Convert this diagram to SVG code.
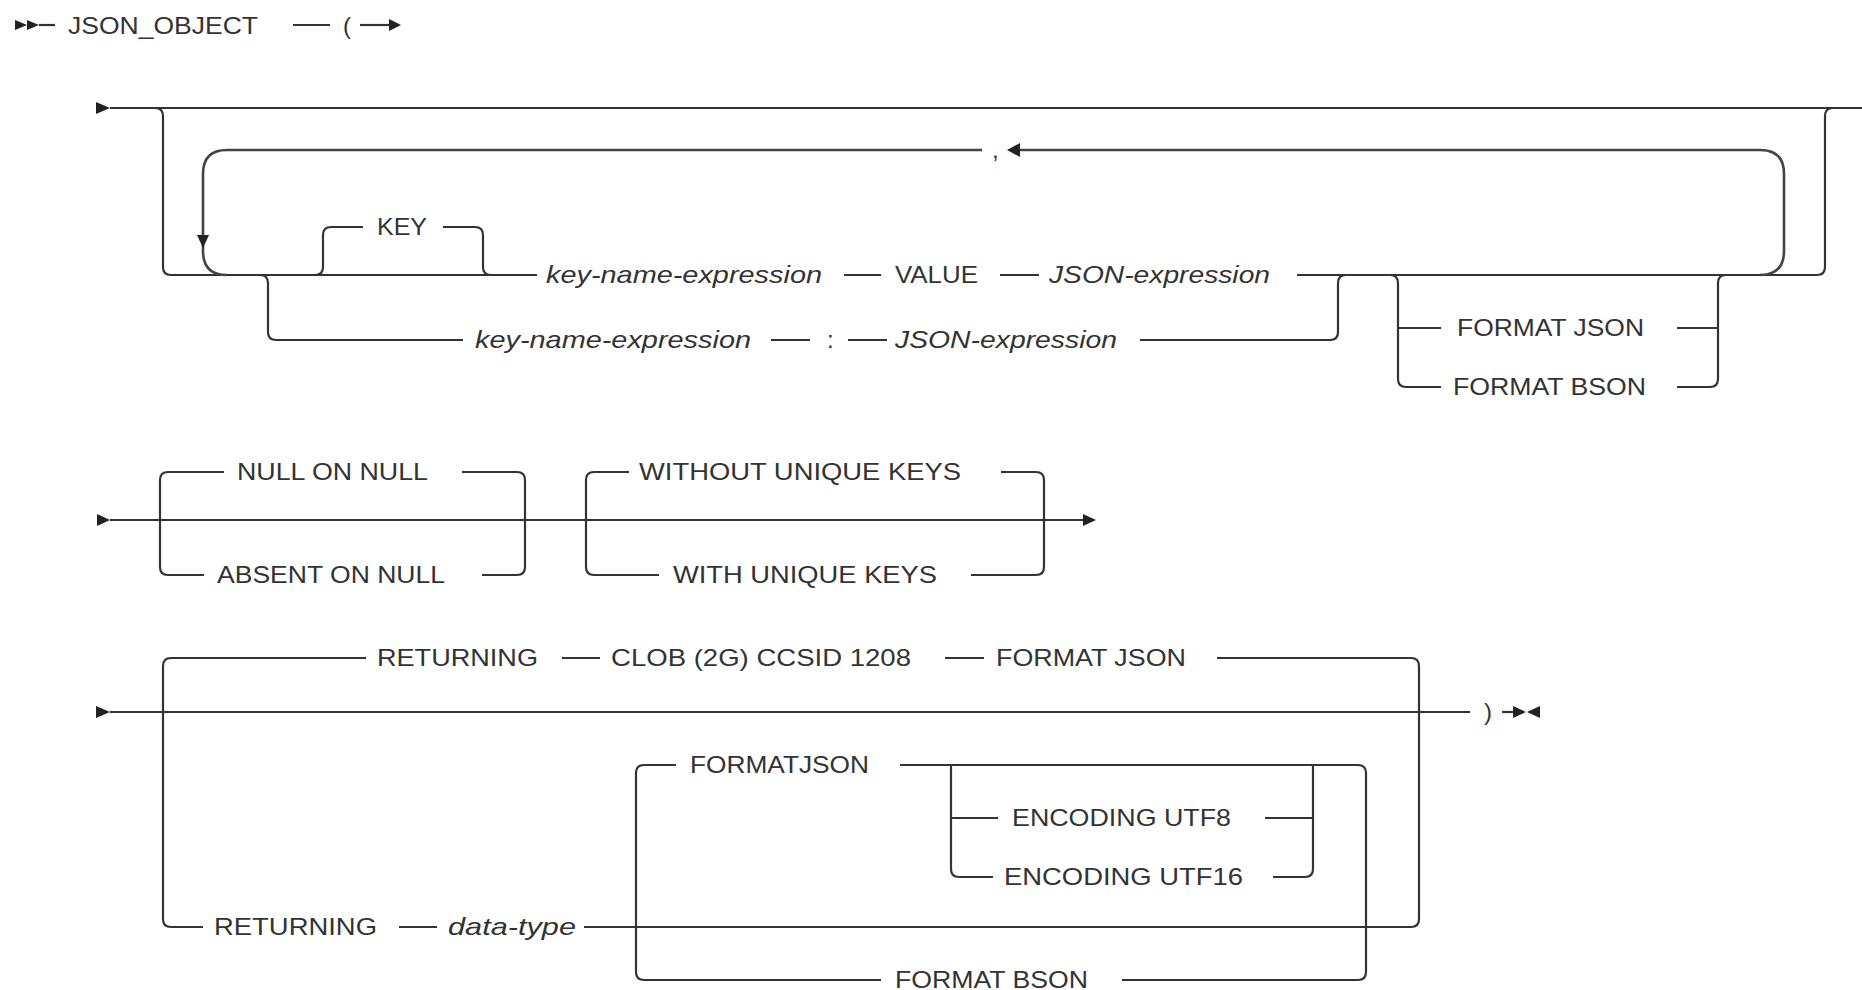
<svg xmlns="http://www.w3.org/2000/svg" width="1862" height="990" viewBox="0 0 1862 990">
<style>
.bg{fill:#ffffff}
.ln{fill:none;stroke:#333;stroke-width:2.2;stroke-linejoin:round}
.lp{fill:none;stroke:#444;stroke-width:2.6;stroke-linejoin:round}
.ah{fill:#222;stroke:none}
.kw{font-family:"Liberation Sans",Arial,sans-serif;font-size:24px;fill:#333}
.it{font-family:"Liberation Sans",Arial,sans-serif;font-size:24px;font-style:italic;fill:#333}
</style>
<rect class="bg" x="0" y="0" width="1862" height="990"/>

<g id="connectors">
  <!-- row 1 -->
  <polygon class="ah" points="15,20 27,25 15,30"/>
  <polygon class="ah" points="27,20 39,25 27,30"/>
  <path class="ln" d="M39 25 H55"/>
  <path class="ln" d="M293 25 H330"/>
  <path class="ln" d="M360 25 H390"/>
  <polygon class="ah" points="389,19 401,25 389,31"/>

  <!-- row 2 -->
  <polygon class="ah" points="96,102 110,108 96,114"/>
  <path class="ln" d="M110 108 H1862"/>
  <path class="ln" d="M155 108 Q163 108 163 116 V267 Q163 275 171 275 H537"/>
  <path class="ln" d="M844 275 H881"/>
  <path class="ln" d="M1000 275 H1039"/>
  <path class="ln" d="M1297 275 H1817 Q1825 275 1825 267 V116 Q1825 108 1833 108"/>
  <!-- KEY -->
  <path class="ln" d="M315 275 Q323 275 323 267 V235 Q323 227 331 227 H363"/>
  <path class="ln" d="M443 227 H475 Q483 227 483 235 V267 Q483 275 491 275"/>
  <!-- lower alternative -->
  <path class="ln" d="M260 275 Q268 275 268 283 V332 Q268 340 276 340 H463"/>
  <path class="ln" d="M771 340 H810"/>
  <path class="ln" d="M848 340 H887"/>
  <path class="ln" d="M1140 340 H1330 Q1338 340 1338 332 V283 Q1338 275 1346 275"/>
  <!-- FORMAT JSON / BSON -->
  <path class="ln" d="M1390 275 Q1398 275 1398 283 V379 Q1398 387 1406 387 H1441"/>
  <path class="ln" d="M1398 328 H1441"/>
  <path class="ln" d="M1677 328 H1718"/>
  <path class="ln" d="M1677 387 H1710 Q1718 387 1718 379 V283 Q1718 275 1726 275"/>
  <!-- repeat loop -->
  <path class="lp" d="M1760 275 Q1784 275 1784 251 V174 Q1784 150 1760 150 H1019"/>
  <polygon class="ah" points="1020,143 1007,150 1020,157"/>
  <path class="lp" d="M982 150 H227 Q203 150 203 174 V251 Q203 275 227 275"/>
  <polygon class="ah" points="197,235 209,235 203,248"/>

  <!-- row 3 -->
  <polygon class="ah" points="97,514 110,520 97,526"/>
  <path class="ln" d="M110 520 H1084"/>
  <polygon class="ah" points="1083,514 1096,520 1083,526"/>
  <path class="ln" d="M224 472 H168 Q160 472 160 480 V567 Q160 575 168 575 H204"/>
  <path class="ln" d="M462 472 H517 Q525 472 525 480 V567 Q525 575 517 575 H482"/>
  <path class="ln" d="M629 472 H594 Q586 472 586 480 V567 Q586 575 594 575 H659"/>
  <path class="ln" d="M1001 472 H1036 Q1044 472 1044 480 V567 Q1044 575 1036 575 H971"/>

  <!-- row 4 -->
  <polygon class="ah" points="96,706 110,712 96,718"/>
  <path class="ln" d="M110 712 H1470"/>
  <path class="ln" d="M366 658 H171 Q163 658 163 666 V919 Q163 927 171 927 H203"/>
  <path class="ln" d="M562 658 H600"/>
  <path class="ln" d="M945 658 H984"/>
  <path class="ln" d="M1217 658 H1411 Q1419 658 1419 666 V919 Q1419 927 1411 927 H584"/>
  <path class="ln" d="M399 927 H437"/>
  <path class="ln" d="M676 765 H644 Q636 765 636 773 V972 Q636 980 644 980 H881"/>
  <path class="ln" d="M900 765 H1358 Q1366 765 1366 773 V972 Q1366 980 1358 980 H1122"/>
  <path class="ln" d="M951 765 V869 Q951 877 959 877 H993"/>
  <path class="ln" d="M951 818 H998"/>
  <path class="ln" d="M1265 818 H1313"/>
  <path class="ln" d="M1273 877 H1305 Q1313 877 1313 869 V765"/>
  <path class="ln" d="M1502 712 H1514"/>
  <polygon class="ah" points="1513,706 1526,712 1513,718"/>
  <polygon class="ah" points="1540,706 1527,712 1540,718"/>
</g>

<g id="n-json-object"><text class="kw" x="68" y="34" textLength="190" lengthAdjust="spacingAndGlyphs">JSON_OBJECT</text></g>
<g id="n-lparen"><text class="kw" x="343" y="34">(</text></g>
<g id="n-key"><text class="kw" x="377" y="235" textLength="50" lengthAdjust="spacingAndGlyphs">KEY</text></g>
<g id="n-kne1"><text class="it" x="546" y="283" textLength="276" lengthAdjust="spacingAndGlyphs">key-name-expression</text></g>
<g id="n-value"><text class="kw" x="895" y="283" textLength="83" lengthAdjust="spacingAndGlyphs">VALUE</text></g>
<g id="n-je1"><text class="it" x="1049" y="283" textLength="221" lengthAdjust="spacingAndGlyphs">JSON-expression</text></g>
<g id="n-kne2"><text class="it" x="475" y="348" textLength="276" lengthAdjust="spacingAndGlyphs">key-name-expression</text></g>
<g id="n-colon"><text class="kw" x="827" y="348">:</text></g>
<g id="n-je2"><text class="it" x="895" y="348" textLength="222" lengthAdjust="spacingAndGlyphs">JSON-expression</text></g>
<g id="n-fj1"><text class="kw" x="1457" y="336" textLength="187" lengthAdjust="spacingAndGlyphs">FORMAT JSON</text></g>
<g id="n-fb1"><text class="kw" x="1453" y="395" textLength="193" lengthAdjust="spacingAndGlyphs">FORMAT BSON</text></g>
<g id="n-comma"><text class="kw" x="992" y="158">,</text></g>
<g id="n-nullonnull"><text class="kw" x="237" y="480" textLength="191" lengthAdjust="spacingAndGlyphs">NULL ON NULL</text></g>
<g id="n-absent"><text class="kw" x="217" y="583" textLength="228" lengthAdjust="spacingAndGlyphs">ABSENT ON NULL</text></g>
<g id="n-without"><text class="kw" x="639" y="480" textLength="322" lengthAdjust="spacingAndGlyphs">WITHOUT UNIQUE KEYS</text></g>
<g id="n-with"><text class="kw" x="673" y="583" textLength="264" lengthAdjust="spacingAndGlyphs">WITH UNIQUE KEYS</text></g>
<g id="n-ret1"><text class="kw" x="377" y="666" textLength="161" lengthAdjust="spacingAndGlyphs">RETURNING</text></g>
<g id="n-clob"><text class="kw" x="611" y="666" textLength="300" lengthAdjust="spacingAndGlyphs">CLOB (2G) CCSID 1208</text></g>
<g id="n-fj2"><text class="kw" x="996" y="666" textLength="190" lengthAdjust="spacingAndGlyphs">FORMAT JSON</text></g>
<g id="n-ret2"><text class="kw" x="214" y="935" textLength="163" lengthAdjust="spacingAndGlyphs">RETURNING</text></g>
<g id="n-datatype"><text class="it" x="448" y="935" textLength="128" lengthAdjust="spacingAndGlyphs">data-type</text></g>
<g id="n-fj3"><text class="kw" x="690" y="773" textLength="179" lengthAdjust="spacingAndGlyphs">FORMATJSON</text></g>
<g id="n-utf8"><text class="kw" x="1012" y="826" textLength="219" lengthAdjust="spacingAndGlyphs">ENCODING UTF8</text></g>
<g id="n-utf16"><text class="kw" x="1004" y="885" textLength="239" lengthAdjust="spacingAndGlyphs">ENCODING UTF16</text></g>
<g id="n-fb2"><text class="kw" x="895" y="988" textLength="193" lengthAdjust="spacingAndGlyphs">FORMAT BSON</text></g>
<g id="n-rparen"><text class="kw" x="1484" y="720">)</text></g>
</svg>
